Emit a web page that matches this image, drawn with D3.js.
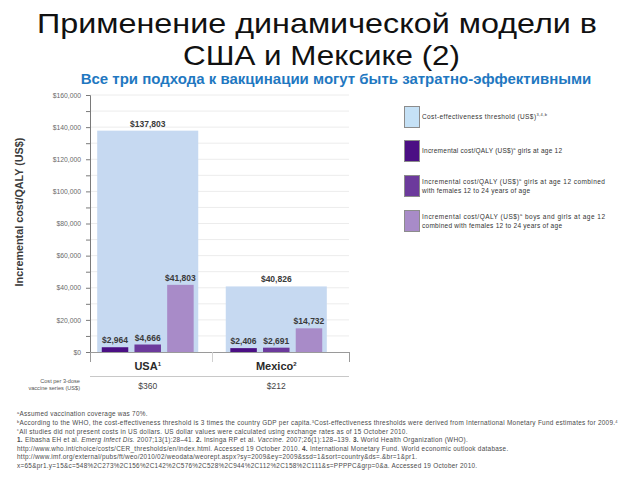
<!DOCTYPE html>
<html><head><meta charset="utf-8">
<script src="https://cdn.jsdelivr.net/npm/d3@7"></script>
<style>
html,body{margin:0;padding:0;background:#fff;}
svg{display:block;font-family:"Liberation Sans",Arial,sans-serif;}
</style></head>
<body>
<svg id="c" width="640" height="480"></svg>
<script>
// ---- data ----
const countries = ["USA", "Mexico"];
const countrySup = ["1", "2"];
const threshold = [137803, 40826];
const girls12 = [2964, 2406];
const girlsPlusFemales = [4666, 2691];
const boysGirlsPlusFemales = [41803, 14732];
const vaccineCost = ["$360", "$212"];
const yTickValues = [0, 20000, 40000, 60000, 80000, 100000, 120000, 140000, 160000];
const yMinorValues = [10000, 30000, 50000, 70000, 90000, 110000, 130000, 150000];
const seriesNames = ["girls12", "girlsPlusFemales", "boysGirlsPlusFemales"];
const seriesColors = ["#4b0f84", "#6c3a9c", "#a88bc8"];
const thresholdColor = "#c6d9f1";
const legendItems = [
  {color: "#c5e1f6", lines: [["Cost-effectiveness threshold (US$)", "3,4,b"]]},
  {color: "#4b0f84", lines: [["Incremental cost/QALY (US$)", "a", " girls at age 12"]]},
  {color: "#6c3a9c", lines: [["Incremental cost/QALY (US$)", "a", " girls at age 12 combined"], ["with females 12 to 24 years of age"]]},
  {color: "#a88bc8", lines: [["Incremental cost/QALY (US$)", "a", " boys and girls at age 12"], ["combined with females 12 to 24 years of age"]]}
];

const svg = d3.select("#c");
const fmt = d3.format(",");

// title
svg.append("text").attr("x", 37).attr("y", 32.5).attr("textLength", 560).attr("lengthAdjust", "spacingAndGlyphs")
  .attr("font-size", 28.5).attr("fill", "#111").text("Применение динамической модели в");
svg.append("text").attr("x", 183).attr("y", 64.8).attr("textLength", 277).attr("lengthAdjust", "spacingAndGlyphs")
  .attr("font-size", 28.5).attr("fill", "#111").text("США и Мексике (2)");
svg.append("text").attr("x", 336).attr("y", 84).attr("text-anchor", "middle")
  .attr("font-size", 15).attr("font-weight", "bold").attr("fill", "#1f78c1")
  .text("Все три подхода к вакцинации могут быть затратно-эффективными");

// scales
const y = d3.scaleLinear().domain([0, 160000]).range([352, 95]);
const x = d3.scaleBand().domain(countries).range([90, 334]).paddingInner(0.214).paddingOuter(0.056);
const xi = d3.scaleBand().domain(seriesNames).range([0, x.bandwidth()]).paddingInner(0.19).paddingOuter(0.14);

// gridlines
svg.append("g").selectAll("line").data(yTickValues.concat(yMinorValues).filter(v => v > 0))
  .join("line").attr("x1", 90).attr("x2", 349).attr("y1", d => y(d)).attr("y2", d => y(d))
  .attr("stroke", "#ececec").attr("stroke-width", 1);

// threshold bands
const rows = countries.map((c, i) => ({c, i, t: threshold[i],
  vals: [girls12[i], girlsPlusFemales[i], boysGirlsPlusFemales[i]]}));
svg.append("g").selectAll("rect").data(rows).join("rect")
  .attr("x", d => x(d.c)).attr("width", x.bandwidth())
  .attr("y", d => y(d.t)).attr("height", d => y(0) - y(d.t)).attr("fill", thresholdColor);
svg.append("g").selectAll("text").data(rows).join("text")
  .attr("x", d => x(d.c) + x.bandwidth() / 2).attr("y", d => y(d.t) - 4)
  .attr("text-anchor", "middle").attr("font-size", 8.5).attr("font-weight", "bold").attr("fill", "#3a3a3a")
  .text(d => "$" + fmt(d.t));

// bars
rows.forEach(r => {
  const g = svg.append("g").attr("transform", `translate(${x(r.c)},0)`);
  const dat = r.vals.map((v, k) => ({v, k}));
  g.selectAll("rect").data(dat).join("rect")
    .attr("x", d => xi(seriesNames[d.k])).attr("width", xi.bandwidth())
    .attr("y", d => y(d.v)).attr("height", d => y(0) - y(d.v)).attr("fill", d => seriesColors[d.k]);
  g.selectAll("text").data(dat).join("text")
    .attr("x", d => xi(seriesNames[d.k]) + xi.bandwidth() / 2).attr("y", d => y(d.v) - 4)
    .attr("text-anchor", "middle").attr("font-size", 8.5).attr("font-weight", "bold").attr("fill", "#3a3a3a")
    .text(d => "$" + fmt(d.v));
});

// y axis
const yAxis = d3.axisLeft(y).tickValues(yTickValues).tickSize(4).tickFormat(d => "$" + fmt(d));
const ya = svg.append("g").attr("transform", "translate(90,0)").call(yAxis);
ya.select(".domain").attr("stroke", "#7a7a7a");
ya.selectAll(".tick line").attr("stroke", "#7a7a7a");
ya.selectAll(".tick text").attr("x", -9).attr("font-size", 6.8).attr("fill", "#6a6a6a")
  .attr("font-family", "Liberation Sans, Arial, sans-serif");
const yMinor = d3.axisLeft(y).tickValues(yMinorValues).tickSize(4).tickFormat("");
const ym = svg.append("g").attr("transform", "translate(90,0)").call(yMinor);
ym.select(".domain").remove();
ym.selectAll(".tick line").attr("stroke", "#7a7a7a");

svg.append("text").attr("transform", "translate(23,212) rotate(-90)").attr("text-anchor", "middle")
  .attr("font-size", 10.8).attr("font-weight", "bold").attr("fill", "#3c3c3c")
  .text("Incremental cost/QALY (US$)");

// bottom frame
const fr = svg.append("g").attr("stroke", "#9a9a9a").attr("fill", "none");
fr.append("line").attr("x1", 90).attr("x2", 349).attr("y1", 352.5).attr("y2", 352.5);
fr.append("line").attr("x1", 90.5).attr("x2", 90.5).attr("y1", 352).attr("y2", 362);
fr.append("line").attr("x1", 349.5).attr("x2", 349.5).attr("y1", 352).attr("y2", 362);
fr.append("line").attr("x1", 212.5).attr("x2", 212.5).attr("y1", 352).attr("y2", 362).attr("stroke", "#d0d0d0");
fr.append("line").attr("x1", 90).attr("x2", 349).attr("y1", 376.5).attr("y2", 376.5).attr("stroke", "#c8c8c8");

const cl = svg.append("g").selectAll("text").data(rows).join("text")
  .attr("x", d => x(d.c) + x.bandwidth() / 2).attr("y", 370).attr("text-anchor", "middle")
  .attr("font-size", 11).attr("font-weight", "bold").attr("fill", "#2a2a2a");
cl.append("tspan").text(d => d.c);
cl.append("tspan").attr("font-size", 6).attr("dy", -4).text(d => countrySup[d.i]);

svg.append("text").attr("x", 80).attr("y", 383).attr("text-anchor", "end").attr("font-size", 5.6).attr("fill", "#555")
  .text("Cost per 3-dose");
svg.append("text").attr("x", 80).attr("y", 390).attr("text-anchor", "end").attr("font-size", 5.6).attr("fill", "#555")
  .text("vaccine series (US$)");
svg.append("g").selectAll("text").data(rows).join("text")
  .attr("x", d => x(d.c) + x.bandwidth() / 2).attr("y", 389).attr("text-anchor", "middle")
  .attr("font-size", 8.5).attr("fill", "#444").text(d => vaccineCost[d.i]);

// legend
const legY = [106, 140, 175, 210];
const legLen = [[125], [140], [183, 108], [183, 140]];
legendItems.forEach((it, i) => {
  const g = svg.append("g").attr("transform", `translate(404,${legY[i]})`);
  g.append("rect").attr("x", 0.5).attr("y", 0.5).attr("width", 15).attr("height", 21)
    .attr("fill", it.color).attr("stroke", "#8c8c8c").attr("stroke-width", 1);
  const n = it.lines.length;
  it.lines.forEach((ln, j) => {
    const t = g.append("text").attr("x", 18).attr("y", (n === 1 ? 13 : 9 + j * 9))
      .attr("font-size", 6.5).attr("fill", "#333")
      .attr("textLength", legLen[i][j]).attr("lengthAdjust", "spacing");
    t.append("tspan").text(ln[0]);
    if (ln[1]) t.append("tspan").attr("font-size", 4).attr("dy", -3).text(ln[1]);
    if (ln[2]) t.append("tspan").attr("dy", 3).text(ln[2]);
  });
});

// footnotes
const footLines = [
  [["a", "sup"], ["Assumed vaccination coverage was 70%."]],
  [["b", "sup"], ["According to the WHO, the cost-effectiveness threshold is 3 times the country GDP per capita."], ["3", "sup"], ["Cost-effectiveness thresholds were derived from International Monetary Fund estimates for 2009."], ["4", "sup"]],
  [["c", "sup"], ["All studies did not present costs in US dollars. US dollar values were calculated using exchange rates as of 15 October 2010."]],
  [["1.", "b"], [" Elbasha EH et al. "], ["Emerg Infect Dis.", "i"], [" 2007;13(1):28–41. "], ["2.", "b"], [" Insinga RP et al. "], ["Vaccine.", "i"], [" 2007;26(1):128–139. "], ["3.", "b"], [" World Health Organization (WHO)."]],
  [["http://www.who.int/choice/costs/CER_thresholds/en/index.html. Accessed 19 October 2010. "], ["4.", "b"], [" International Monetary Fund. World economic outlook database."]],
  [["http://www.imf.org/external/pubs/ft/weo/2010/02/weodata/weorept.aspx?sy=2009&ey=2009&ssd=1&sort=country&ds=.&br=1&pr1."]],
  [["x=65&pr1.y=15&c=548%2C273%2C156%2C142%2C576%2C528%2C944%2C112%2C158%2C111&s=PPPPC&grp=0&a. Accessed 19 October 2010."]]
];
const footY = [416, 425, 433.5, 442, 450.5, 459, 467.5];
footLines.forEach((ln, i) => {
  const t = svg.append("text").attr("x", 17).attr("y", footY[i]).attr("font-size", 6.4)
    .attr("letter-spacing", 0.28).attr("fill", "#4a4a4a");
  let up = false;
  ln.forEach(seg => {
    const s = t.append("tspan").text(seg[0]);
    if (seg[1] === "sup") { s.attr("font-size", 4).attr("dy", up ? 0 : -2.5); up = true; }
    else { if (up) { s.attr("dy", 2.5); up = false; } }
    if (seg[1] === "b") s.attr("font-weight", "bold");
    if (seg[1] === "i") s.attr("font-style", "italic");
  });
});
</script>
</body></html>
